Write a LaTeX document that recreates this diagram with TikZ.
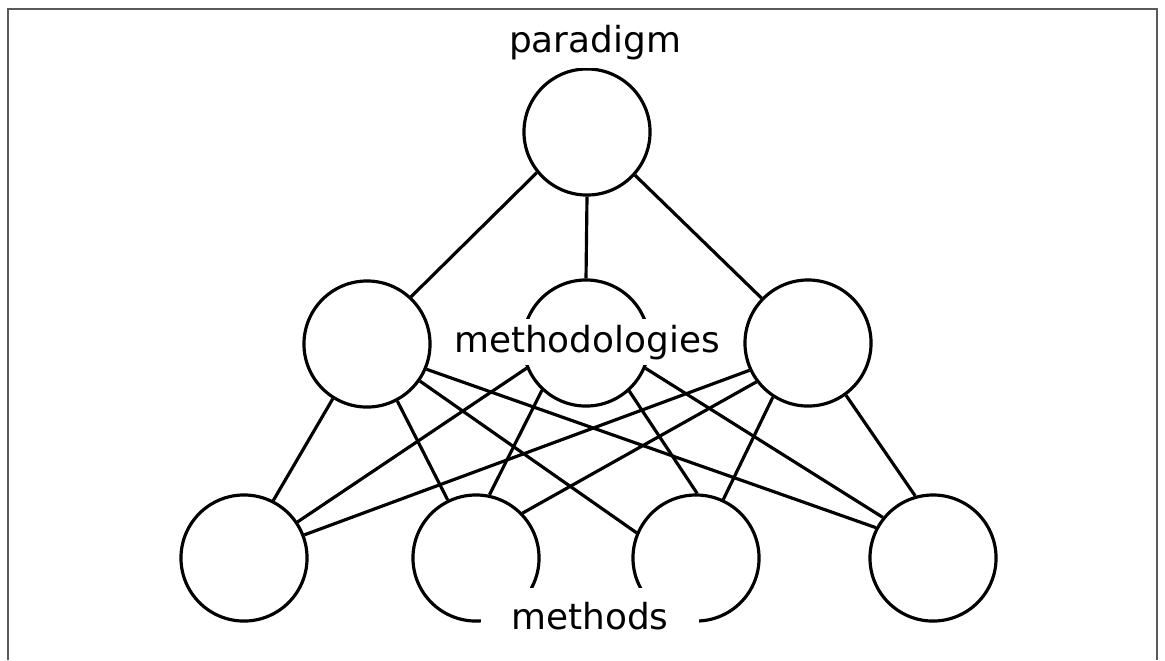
\documentclass[tikz,border=0pt]{standalone}
\usepackage{fontspec}
\setmainfont{DejaVu Sans}
\begin{document}
\begin{tikzpicture}[x=0.01cm,y=-0.01cm,
    ring/.style={shape=circle,draw=black,line width=0.9pt,minimum size=1.26cm,inner sep=0pt},
    link/.style={draw=black,line width=0.9pt},
    tag/.style={fill=white,inner xsep=0.05cm,anchor=base,font=\fontsize{10.2}{12}\selectfont}]
    \useasboundingbox (0,0) rectangle (1165,660);
    % frame, open at the bottom
    \draw[black!65,line width=0.6pt] (8,660) -- (8,9) -- (1157,9) -- (1157,660);

    \node[ring] (P) at (587,132) {};
    \node[ring] (L) at (367,344) {};
    \node[ring] (M) at (586,343) {};
    \node[ring] (R) at (808,343) {};
    \node[ring] (B1) at (244,558) {};
    \node[ring] (B2) at (476,558) {};
    \node[ring] (B3) at (696,558) {};
    \node[ring] (B4) at (933,558) {};

    \draw[link] (P.219) -- (L.47);
    \draw[link] (P.270) -- (M.90);
    \draw[link] (P.318) -- (R.136);

    \draw[link] (L.238) -- (B1.63);
    \draw[link] (L.298) -- (B2.116);
    \draw[link] (L.325) -- (B3.157);
    \draw[link] (L.337) -- (B4.152);

    \draw[link] (M.203) -- (B1.34);
    \draw[link] (M.227) -- (B2.78);
    \draw[link] (M.312) -- (B3.89);
    \draw[link] (M.337) -- (B4.141);

    \draw[link] (R.205) -- (B1.21);
    \draw[link] (R.217) -- (B2.44);
    \draw[link] (R.237) -- (B3.65);
    \draw[link] (R.306) -- (B4.106);

    \node[tag,inner ysep=0.087cm] (paradigm) at (595,52) {paradigm};
    \node[tag,inner ysep=0.06cm] (methodologies) at (587,352) {methodologies};
    \node[tag,inner xsep=0.3cm,inner ysep=0.14cm] (methods) at (590,629) {methods};
\end{tikzpicture}
\end{document}
